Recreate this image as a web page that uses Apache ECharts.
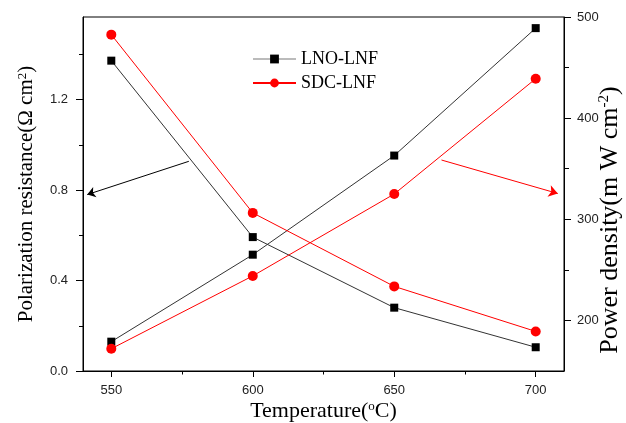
<!DOCTYPE html>
<html><head><meta charset="utf-8">
<script src="https://cdn.jsdelivr.net/npm/echarts@6/dist/echarts.min.js"></script>
<style>html,body{margin:0;padding:0;background:#fff}#c{width:626px;height:423px}</style>
</head><body><div id="c"></div>
<script>
// ---- data ----
const temperatures = [550, 600, 650, 700];
const lnoResistance = [1.372, 0.592, 0.280, 0.105];
const sdcResistance = [1.487, 0.699, 0.374, 0.175];
const lnoPower = [179, 265, 363, 489];
const sdcPower = [172, 244, 325, 439];
const xMajorTicks = [550, 600, 650, 700];
const xMinorTicks = [575, 625, 675];
const leftMajorTicks = [0, 0.4, 0.8, 1.2];
const leftMinorTicks = [0.2, 0.6, 1.0, 1.4];
const rightMajorTicks = [200, 300, 400, 500];
const rightMinorTicks = [250, 350, 450];
const seriesNames = ['LNO-LNF', 'SDC-LNF'];
// annotation arrows (data units)
const blackArrow = [[577.4, 0.927], [541.5, 0.78]];
const redArrow = [[666.7, 358.6], [707.8, 325.5]];

const serif = '"Liberation Serif", "Times New Roman", serif';
const sans = '"Liberation Sans", Arial, sans-serif';
const X_MIN = 540, X_MAX = 710, L_MIN = 0, L_MAX = 1.565, R_MIN = 150, R_MAX = 500;

const zip = (xs, ys) => xs.map((x, i) => [x, ys[i]]);
const supRich = { sup: { fontSize: 13, fontFamily: serif, verticalAlign: 'top', padding: [0, 0, 8, 0], color: '#000' } };
const supRichBig = { sup: { fontSize: 15, fontFamily: serif, verticalAlign: 'top', padding: [0, 0, 9, 0], color: '#000' } };

function minorAxis(min, max, pos, ticks, len) {
  return { type: 'value', min, max, position: pos, axisLine: { show: false },
    axisTick: { show: true, length: len, customValues: ticks, lineStyle: { color: '#000', width: 1 } },
    axisLabel: { show: false }, splitLine: { show: false } };
}

const option = {
  animation: false,
  backgroundColor: '#fff',
  grid: { left: 83, right: 62, top: 17, bottom: 52, show: true, borderColor: '#000', borderWidth: 1,
    containLabel: false, outerBoundsMode: 'none' },
  legend: {
    orient: 'vertical', left: 247, top: 45, itemWidth: 43, itemHeight: 11, itemGap: 6,
    textStyle: { fontFamily: serif, fontSize: 18, color: '#000' },
    data: [{ name: seriesNames[0], lineStyle: { color: '#bbb' } }, { name: seriesNames[1] }]
  },
  xAxis: [
    { type: 'value', min: X_MIN, max: X_MAX, position: 'bottom',
      axisLine: { show: true, lineStyle: { color: '#000', width: 1 } },
      axisTick: { show: true, length: 6, customValues: xMajorTicks, lineStyle: { color: '#000' } },
      axisLabel: { customValues: xMajorTicks, margin: 13, fontFamily: sans, fontSize: 13, color: '#222' },
      splitLine: { show: false },
      name: 'Temperature({sup|o}C)', nameLocation: 'middle', nameGap: 29, nameMoveOverlap: false,
      nameTextStyle: { fontFamily: serif, fontSize: 22, color: '#000', rich: supRich } },
    minorAxis(X_MIN, X_MAX, 'bottom', xMinorTicks, 3.5)
  ],
  yAxis: [
    { type: 'value', min: L_MIN, max: L_MAX, position: 'left',
      axisLine: { show: true, lineStyle: { color: '#000', width: 1 } },
      axisTick: { show: true, length: 7, customValues: leftMajorTicks, lineStyle: { color: '#000' } },
      axisLabel: { customValues: leftMajorTicks, margin: 15, fontFamily: sans, fontSize: 13, color: '#222',
        formatter: v => v.toFixed(1) },
      splitLine: { show: false },
      name: 'Polarization resistance(Ω cm{sup|2})', nameLocation: 'middle', nameGap: 46, nameMoveOverlap: false,
      nameTextStyle: { fontFamily: serif, fontSize: 21, color: '#000', rich: supRich } },
    { type: 'value', min: R_MIN, max: R_MAX, position: 'right',
      axisLine: { show: true, lineStyle: { color: '#000', width: 1 } },
      axisTick: { show: true, length: 7, customValues: rightMajorTicks, lineStyle: { color: '#000' } },
      axisLabel: { customValues: rightMajorTicks, margin: 13, fontFamily: sans, fontSize: 13, color: '#222' },
      splitLine: { show: false },
      name: 'Power density(m W cm{sup|-2})', nameLocation: 'middle', nameGap: 33, nameMoveOverlap: false,
      nameTextStyle: { fontFamily: serif, fontSize: 26, color: '#000', rich: supRichBig, padding: [0, 52, 0, 0] } },
    minorAxis(L_MIN, L_MAX, 'left', leftMinorTicks, 4),
    minorAxis(R_MIN, R_MAX, 'right', rightMinorTicks, 5)
  ],
  series: [
    { name: seriesNames[0], type: 'line', xAxisIndex: 0, yAxisIndex: 0, data: zip(temperatures, lnoResistance),
      symbol: 'rect', symbolSize: 8, itemStyle: { color: '#000' }, lineStyle: { color: '#333', width: 1 },
      markLine: { silent: true, symbol: ['none', 'arrow'], symbolSize: 8, label: { show: false },
        lineStyle: { color: '#000', width: 1, type: 'solid' },
        data: [[{ coord: blackArrow[0] }, { coord: blackArrow[1] }]] } },
    { name: seriesNames[0], type: 'line', xAxisIndex: 0, yAxisIndex: 1, data: zip(temperatures, lnoPower),
      symbol: 'rect', symbolSize: 8, itemStyle: { color: '#000' }, lineStyle: { color: '#333', width: 1 } },
    { name: seriesNames[1], type: 'line', xAxisIndex: 0, yAxisIndex: 0, data: zip(temperatures, sdcResistance),
      symbol: 'circle', symbolSize: 10, itemStyle: { color: '#ff0000' }, lineStyle: { color: '#ff0000', width: 1 } },
    { name: seriesNames[1], type: 'line', xAxisIndex: 0, yAxisIndex: 1, data: zip(temperatures, sdcPower),
      symbol: 'circle', symbolSize: 10, itemStyle: { color: '#ff0000' }, lineStyle: { color: '#ff0000', width: 1 },
      markLine: { silent: true, symbol: ['none', 'arrow'], symbolSize: 9, label: { show: false },
        lineStyle: { color: '#ff0000', width: 1, type: 'solid' },
        data: [[{ coord: redArrow[0] }, { coord: redArrow[1] }]] } }
  ]
};
const chart = echarts.init(document.getElementById('c'), null, { renderer: 'canvas' });
chart.setOption(option);
</script>
</body></html>
